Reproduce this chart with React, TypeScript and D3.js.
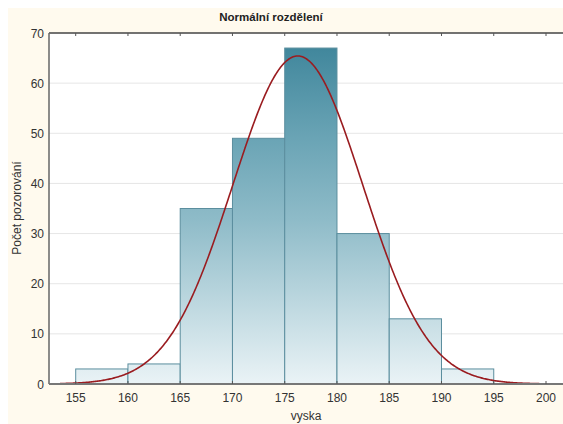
import React from "react";
import * as d3 from "d3";

const binStarts = [155, 160, 165, 170, 175, 180, 185, 190];
const binWidth = 5;
const counts = [3, 4, 35, 49, 67, 30, 13, 3];
const xTicks = [155, 160, 165, 170, 175, 180, 185, 190, 195, 200];
const yTicks = [0, 10, 20, 30, 40, 50, 60, 70];
const fitMean = 176.25;
const fitSd = 6.22;

const W = 563, H = 424;
const left = 49, top = 33, bottom = 384, right = 563;

export default function App() {
  const x = d3.scaleLinear().domain([155, 200]).range([75.7, 546]);
  const y = d3.scaleLinear().domain([0, 70]).range([bottom, top]);
  const n = d3.sum(counts);
  const pdf = (v: number) =>
    (n * binWidth) / (fitSd * Math.sqrt(2 * Math.PI)) *
    Math.exp(-0.5 * ((v - fitMean) / fitSd) ** 2);
  const curvePts = d3.range(153.5, 200.01, 0.1).map((v) => [v, pdf(v)] as [number, number]);
  const line = d3.line<[number, number]>().x((d) => x(d[0])).y((d) => y(d[1])).curve(d3.curveLinear);
  const font = "'Liberation Sans', Arial, sans-serif";
  return (
    <svg width={W} height={H} style={{ position: "absolute", left: 0, top: 0 }} fontFamily={font}>
      <defs>
        <linearGradient id="barGrad" gradientUnits="userSpaceOnUse" x1="0" y1={top} x2="0" y2={bottom}>
          <stop offset="0" stopColor="#3a8298" />
          <stop offset="0.3" stopColor="#6aa4b5" />
          <stop offset="0.53" stopColor="#8ebbc8" />
          <stop offset="1" stopColor="#eaf3f6" />
        </linearGradient>
        <clipPath id="plotClip">
          <rect x={left} y={top} width={right - left} height={bottom - top} />
        </clipPath>
      </defs>
      <rect x={0} y={0} width={W} height={H} fill="#ffffff" />
      <rect x={8} y={8} width={W - 8} height={H - 8} fill="#fffaee" />
      <rect x={left} y={top} width={right - left} height={bottom - top} fill="#ffffff" />
      {yTicks.filter((t) => t > 0 && t < 70).map((t) => (
        <line key={t} x1={left} x2={right} y1={y(t)} y2={y(t)} stroke="#e6e6e6" strokeWidth={1} />
      ))}
      {binStarts.map((b, i) => (
        <rect key={b} x={x(b)} y={y(counts[i])} width={x(b + binWidth) - x(b)} height={bottom - y(counts[i])}
          fill="url(#barGrad)" stroke="#5b8e9e" strokeWidth={1} />
      ))}
      <path d={line(curvePts) || ""} fill="none" stroke="#9a1c20" strokeWidth={1.6} clipPath="url(#plotClip)" />
      <line x1={left} x2={right} y1={top} y2={top} stroke="#444" strokeWidth={1.5} />
      <line x1={left} x2={left} y1={top} y2={bottom} stroke="#666" strokeWidth={1.5} />
      <line x1={left} x2={right} y1={bottom} y2={bottom} stroke="#777" strokeWidth={2} />
      {xTicks.map((t) => (
        <g key={t}>
          <line x1={x(t)} x2={x(t)} y1={top} y2={top + 3} stroke="#555" strokeWidth={1} />
          <line x1={x(t)} x2={x(t)} y1={bottom} y2={bottom - 3} stroke="#555" strokeWidth={1} />
          <text x={x(t)} y={402} textAnchor="middle" fontSize={12} fill="#333">{t}</text>
        </g>
      ))}
      {yTicks.map((t) => (
        <text key={t} x={44} y={y(t) + 4.5} textAnchor="end" fontSize={12} fill="#333">{t}</text>
      ))}
      <text x={271} y={21} textAnchor="middle" fontSize={11.5} fontWeight="bold" fill="#222">Normální rozdělení</text>
      <text x={306} y={420} textAnchor="middle" fontSize={12} fill="#333">vyska</text>
      <text transform={`translate(21,208) rotate(-90)`} textAnchor="middle" fontSize={12} fill="#333">Počet pozorování</text>
    </svg>
  );
}
